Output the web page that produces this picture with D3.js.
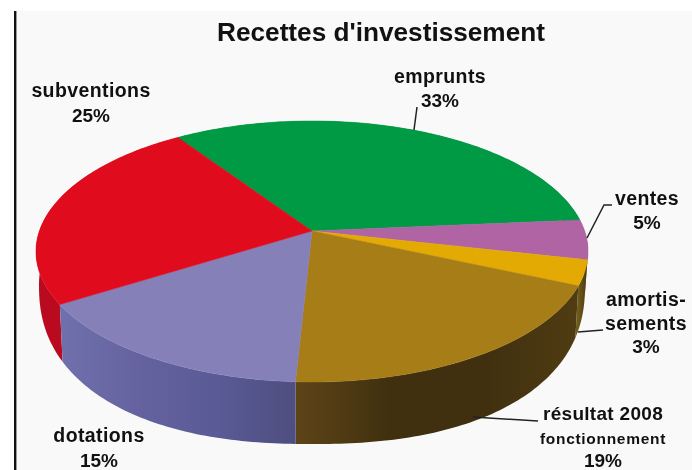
<!DOCTYPE html>
<html>
<head>
<meta charset="utf-8">
<script src="https://cdn.jsdelivr.net/npm/d3@7/dist/d3.min.js"></script>
<style>
html,body{margin:0;padding:0;background:#fff;overflow:hidden}
svg{display:block;filter:blur(0.35px)}
text{font-family:"Liberation Sans",Arial,sans-serif;fill:#111;text-anchor:middle;font-weight:bold}
</style>
</head>
<body>
<svg id="chart" width="692" height="470"></svg>
<script>
const categories = ["emprunts","ventes","amortissements","résultat 2008","dotations","subventions"];
const values = [33,4.9,3.1,19.2,15.3,24.5];
const topColors = ["#009a44","#b064a4","#e4aa04","#a67d17","#8580b8","#e00b1c"];
const sideStops = [
  ["#007a36","#007a36"],
  ["#8a4c80","#8a4c80"],
  ["#6e5a18","#4a3812"],
  ["#5e4418","#40300f","#40300f","#503c12"],
  ["#7070ac","#64639f","#5a5a96","#4e4e80"],
  ["#b80a20","#c40a1e"]
];
const titleText = "Recettes d'investissement";

const svg = d3.select("#chart");
const cx = 312, cy = 231, Rx = 272.6, Ry = 127.3, persp = 0.157;
const deg = Math.PI/180;
const startDeg = -33.8;

function project(a, r=1){
  const X = r*Math.sin(a), Y = -r*Math.cos(a);
  const w = 1 - persp*Y;
  return [cx + Rx*X/w, cy + Ry*Y/w];
}
// lower rim: the top rim's outline remapped onto a slightly squared base curve
const topEll = {cy:251.5, rx:276, ry:130.5}, baseEll = {cy:285, rx:273, ry:159, n:2.3};
function projectBottom(a){
  const p = project(a);
  const ux = Math.max(-1,Math.min(1,(p[0]-cx)/topEll.rx)), uy = (p[1]-topEll.cy)/topEll.ry;
  const y = uy < 0
    ? baseEll.cy + baseEll.ry*uy
    : baseEll.cy + baseEll.ry*Math.pow(1-Math.pow(Math.abs(ux),baseEll.n),1/baseEll.n);
  return [cx + baseEll.rx*ux, y];
}
const line = d3.line();
const pie = d3.pie().sort(null).startAngle(startDeg*deg).endAngle((startDeg+360)*deg);
const arcs = pie(values).map((d,i)=>({...d,i}));

function samples(d){
  const n = Math.max(6, Math.ceil((d.endAngle-d.startAngle)/deg));
  return d3.range(n+1).map(k=>d.startAngle+(d.endAngle-d.startAngle)*k/n);
}

svg.append("rect").attr("x",16).attr("y",11).attr("width",676).attr("height",459).attr("fill","#f9f9f9");
svg.append("rect").attr("x",14).attr("y",11).attr("width",2.4).attr("height",459).attr("fill","#111");

const defs = svg.append("defs");
arcs.forEach(d=>{
  const pts = samples(d).map(a=>project(a));
  const ext = d3.extent(pts,p=>p[0]);
  const g = defs.append("linearGradient").attr("id","side"+d.i)
    .attr("gradientUnits","userSpaceOnUse")
    .attr("x1",ext[0]).attr("x2",ext[1]).attr("y1",0).attr("y2",0);
  const st = sideStops[d.i];
  st.forEach((c,k)=>g.append("stop").attr("offset",k/(st.length-1)).attr("stop-color",c));
});

const frontness = d => -Math.cos((d.startAngle+d.endAngle)/2);
svg.append("g").selectAll("path")
  .data(arcs.slice().sort((a,b)=>frontness(a)-frontness(b)))
  .join("path")
  .attr("d",d=>{
    const as = samples(d);
    return line(as.map(a=>project(a)).concat(as.slice().reverse().map(a=>projectBottom(a))))+"Z";
  })
  .attr("fill",d=>`url(#side${d.i})`);

svg.append("g").selectAll("path")
  .data(arcs)
  .join("path")
  .attr("d",d=>line([[cx,cy]].concat(samples(d).map(a=>project(a))))+"Z")
  .attr("fill",d=>topColors[d.i])
  .attr("stroke",d=>topColors[d.i])
  .attr("stroke-width",0.5);

const leaders = [
  [[414,130],[417,107]],
  [[587,238],[604,205],[612,205]],
  [[578,332],[603,330]],
  [[473,417],[538,421]]
];
svg.append("g").selectAll("path").data(leaders).join("path")
  .attr("d",d=>line(d)).attr("fill","none").attr("stroke","#222").attr("stroke-width",1.5);

svg.append("text").attr("x",381).attr("y",41).attr("font-size",26.2).text(titleText);
const labelLines = [
  ["emprunts",440,83,19.5,.4],["33%",440,107,19,0],
  ["subventions",91,97,19.5,.4],["25%",91,122,19,0],
  ["ventes",647,205,19.5,.4],["5%",647,229,19,0],
  ["amortis-",646,306,19.5,.4],["sements",646,330,19.5,.4],["3%",646,353,19,0],
  ["résultat 2008",603,420,19,.3],["fonctionnement",603,444,15.5,.7],["19%",603,467,19,0],
  ["dotations",99,442,19.5,.4],["15%",99,467,19,0]
];
svg.append("g").selectAll("text").data(labelLines).join("text")
  .attr("x",d=>d[1]).attr("y",d=>d[2]).attr("font-size",d=>d[3]).attr("letter-spacing",d=>d[4])
  .text(d=>d[0]);
</script>
</body>
</html>
